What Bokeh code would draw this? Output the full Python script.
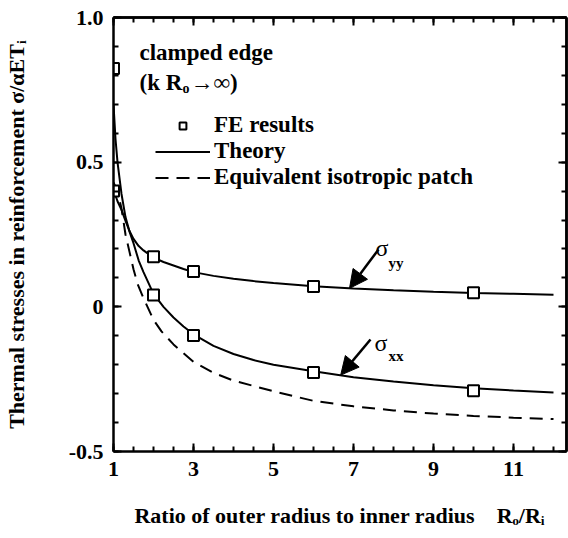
import math
from bokeh.plotting import figure
from bokeh.models import (Range1d, FixedTicker, LinearAxis, Label, Arrow, NormalHead,
                          Legend, LegendItem)
from bokeh.embed import file_html
from bokeh.resources import INLINE

# ---------------- data ----------------
theory_x = [1.0, 1.05, 1.1, 1.2, 1.3, 1.4, 1.5, 1.63, 1.75, 2.0, 2.25, 2.5, 2.75, 3.0,
            3.5, 4.0, 4.5, 5.0, 6.0, 7.0, 8.0, 9.0, 10.0, 11.0, 12.0]
sigma_xx_theory = [0.70, 0.58, 0.50, 0.39, 0.31, 0.26, 0.22, 0.16, 0.12, 0.045, 0.0,
                   -0.037, -0.068, -0.095, -0.135, -0.163, -0.184, -0.200, -0.223,
                   -0.243, -0.258, -0.271, -0.281, -0.289, -0.296]
sigma_yy_theory = [0.40, 0.385, 0.365, 0.335, 0.297, 0.262, 0.235, 0.21, 0.195, 0.17,
                   0.155, 0.143, 0.131, 0.12, 0.107, 0.097, 0.089, 0.082, 0.071, 0.063,
                   0.057, 0.052, 0.048, 0.045, 0.042]

iso_x = [1.0, 1.1, 1.2, 1.3, 1.4, 1.5, 1.6, 1.75, 2.0, 2.2, 2.5, 3.0, 3.5, 4.0, 5.0,
         6.0, 7.0, 8.0, 9.0, 10.0, 11.0, 12.0]
iso_patch = [0.43, 0.40, 0.34, 0.25, 0.19, 0.13, 0.08, 0.03, -0.045, -0.085, -0.13,
             -0.19, -0.228, -0.255, -0.292, -0.325, -0.344, -0.358, -0.369, -0.377,
             -0.383, -0.388]

fe_x = [1, 2, 3, 6, 10]
fe_sigma_xx = [0.824, 0.041, -0.099, -0.227, -0.290]
fe_sigma_yy = [0.400, 0.173, 0.122, 0.070, 0.049]

x_ticks = [1, 3, 5, 7, 9, 11]
y_ticks = [-0.5, 0, 0.5, 1.0]
y_tick_labels = ["-0.5", "0", "0.5", "1.0"]

x_title = "Ratio of outer radius to inner radius\u00a0\u00a0\u00a0 R\u2092/R\u1d62"
y_title = "Thermal stresses in reinforcement \u03c3/\u03b1ET\u1d62"

# ---------------- layout ----------------
W, H = 568, 538
BL, BR, BT, BB = 113, 2, 17, 87
FW, FH = W - BL - BR, H - BT - BB
X0, Y0, Y1 = 1.0, -0.5, 1.0
X1 = X0 + FW / 40.0

FONT = "Liberation Serif"


def px2x(px):
    return X0 + (px - BL) * (X1 - X0) / FW


def px2y(py):
    return Y1 - (py - BT) * (Y1 - Y0) / FH


p = figure(width=W, height=H, x_range=Range1d(X0, X1), y_range=Range1d(Y0, Y1),
           output_backend="svg", toolbar_location=None,
           x_axis_type=None, y_axis_type=None,
           min_border_left=BL, min_border_right=BR, min_border_top=BT,
           min_border_bottom=BB)
p.outline_line_color = None
p.background_fill_color = "white"
p.border_fill_color = "white"

x_minor = [1 + 0.5 * i for i in range(0, 24)]
y_minor = [round(-0.5 + 0.1 * i, 2) for i in range(0, 16)]


def base_style(ax):
    ax.axis_line_width = 2.5
    ax.axis_line_color = "black"
    ax.major_tick_in = 8
    ax.major_tick_out = 0
    ax.minor_tick_in = 5
    ax.minor_tick_out = 0
    ax.major_tick_line_width = 2
    ax.minor_tick_line_width = 2
    ax.major_label_text_font = FONT
    ax.major_label_text_font_style = "bold"
    ax.major_label_text_color = "black"
    ax.major_label_text_font_size = "22px"
    ax.axis_label_text_font = FONT
    ax.axis_label_text_font_style = "bold"
    ax.axis_label_text_font_size = "22px"
    ax.axis_label_text_color = "black"


def tick_only_axes(majors, minors, side):
    # axes without labels: short and long inward ticks drawn as "minor" ticks
    for pos, length in ((minors, 5), (majors, 8)):
        ax = LinearAxis(ticker=FixedTicker(ticks=[], minor_ticks=pos))
        base_style(ax)
        ax.minor_tick_in = length
        ax.major_label_standoff = 0
        ax.axis_label_standoff = 0
        p.add_layout(ax, side)


xb = LinearAxis(ticker=FixedTicker(ticks=x_ticks, minor_ticks=x_minor))
base_style(xb)
xb.major_label_standoff = 10
xb.axis_label = x_title
xb.axis_label_standoff = 24
p.add_layout(xb, "below")

yl = LinearAxis(ticker=FixedTicker(ticks=y_ticks, minor_ticks=y_minor))
base_style(yl)
yl.major_label_standoff = 10
yl.major_label_overrides = {t: s for t, s in zip(y_ticks, y_tick_labels)}
yl.axis_label = y_title
yl.axis_label_standoff = 37
p.add_layout(yl, "left")

tick_only_axes(x_ticks, x_minor, "above")
tick_only_axes(y_ticks, y_minor, "right")

# ---------------- curves ----------------
r_iso = p.line(iso_x, iso_patch, line_color="black", line_width=2, line_dash="13 8")
r_xx = p.line(theory_x, sigma_xx_theory, line_color="black", line_width=2)
r_yy = p.line(theory_x, sigma_yy_theory, line_color="black", line_width=2)
r_fe = p.scatter(fe_x + fe_x, fe_sigma_xx + fe_sigma_yy, marker="square", size=11,
                 line_color="black", line_width=2, fill_color="white")

legend = Legend(items=[LegendItem(label="FE results", renderers=[r_fe]),
                       LegendItem(label="Theory", renderers=[r_xx]),
                       LegendItem(label="Equivalent isotropic patch", renderers=[r_iso])],
                location=(42, 261), glyph_width=55, glyph_height=17, label_height=17,
                label_standoff=4, spacing=0, padding=0, margin=0,
                border_line_alpha=0, background_fill_alpha=0,
                label_text_font=FONT, label_text_font_style="bold",
                label_text_font_size="23px", label_text_color="black")
p.add_layout(legend)


def txt(x, y, s, size="23px", style="bold"):
    p.add_layout(Label(x=x, y=y, text=s, text_font=FONT, text_font_size=size,
                       text_font_style=style, text_color="black",
                       text_align="left", text_baseline="alphabetic"))


# annotations inside the plot
txt(px2x(139), px2y(52), "clamped edge")
txt(px2x(139), px2y(82), "(k R")
txt(px2x(182), px2y(88), "o", size="14px")
txt(px2x(190), px2y(82), "\u2192\u221e)")

# sigma labels with arrows
txt(px2x(375), px2y(247), "\u03c3", size="24px", style="normal")
txt(px2x(388), px2y(262), "yy", size="15px")
txt(px2x(374), px2y(342), "\u03c3", size="24px", style="normal")
txt(px2x(388), px2y(355), "xx", size="15px")

arrow_tail_x = [px2x(378), px2x(370)]
arrow_tail_y = [px2y(249), px2y(339)]
arrow_tip_x = [6.9, 6.68]
arrow_tip_y = [0.064, -0.236]
for xs, ys, xe, ye in zip(arrow_tail_x, arrow_tail_y, arrow_tip_x, arrow_tip_y):
    p.add_layout(Arrow(end=NormalHead(size=18, fill_color="black", line_color="black"),
                       x_start=xs, y_start=ys, x_end=xe, y_end=ye,
                       line_width=2.5, line_color="black"))

open("out.html", "w").write(file_html(p, INLINE))
